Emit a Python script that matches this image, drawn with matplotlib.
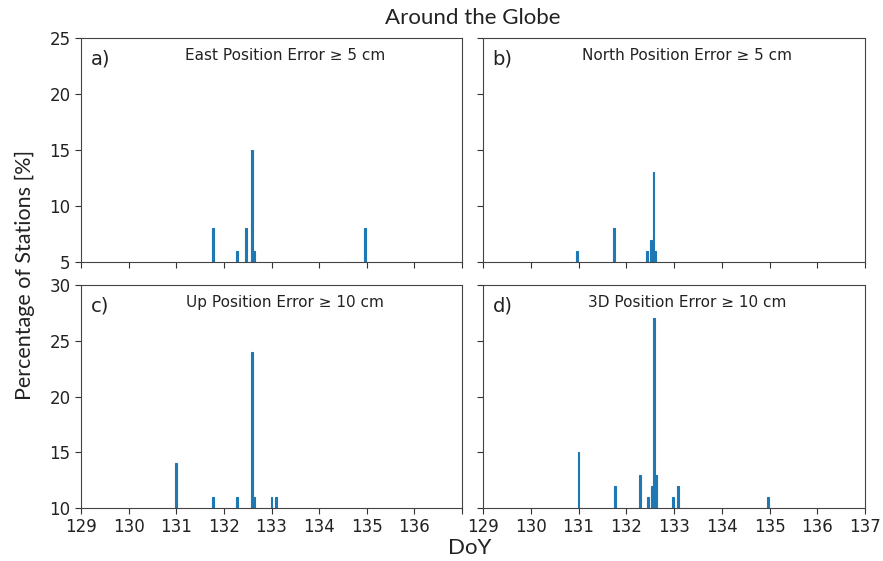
import numpy as np
import matplotlib
matplotlib.use('Agg')
import matplotlib.pyplot as plt

# day-of-year positions and percentage of stations per panel
east_doy = [131.77, 132.28, 132.47, 132.55, 132.60, 132.64, 134.60, 134.96]
east_pct = [8, 6, 8, 5, 15, 6, 5, 8]

north_doy = [130.97, 131.74, 132.25, 132.43, 132.51, 132.57, 132.61, 134.56]
north_pct = [6, 8, 5, 6, 7, 13, 6, 5]

up_doy = [131.00, 131.77, 132.28, 132.55, 132.60, 132.64, 133.00, 133.10, 133.22]
up_pct = [14, 11, 11, 10, 24, 11, 11, 11, 10]

td_doy = [131.00, 131.77, 132.28, 132.45, 132.53, 132.59, 132.63, 132.98, 133.09, 133.21, 134.96]
td_pct = [15, 12, 13, 11, 12, 27, 13, 11, 12, 10, 11]

panels = [
    ('a)', 'East Position Error \u2265 5 cm', east_doy, east_pct),
    ('b)', 'North Position Error \u2265 5 cm', north_doy, north_pct),
    ('c)', 'Up Position Error \u2265 10 cm', up_doy, up_pct),
    ('d)', '3D Position Error \u2265 10 cm', td_doy, td_pct),
]
days = np.arange(129, 138)

fig = plt.figure(figsize=(8.83, 5.61), dpi=100)
W, H = 883.0, 561.0
boxes = [(81, 38, 462, 262), (483, 38, 865, 262),
         (81, 285, 462, 508), (483, 285, 865, 508)]
axes = []
for (x0, y0, x1, y1) in boxes:
    axes.append(fig.add_axes([x0 / W, 1 - y1 / H, (x1 - x0) / W, (y1 - y0) / H]))

for i, (ax, (tag, label, doy, pct)) in enumerate(zip(axes, panels)):
    ax.bar(doy, pct, width=0.04, color='#1f77b4', edgecolor='#1f77b4', linewidth=0.8)
    ax.set_xlim(129, 137)
    ax.set_xticks(days)
    if i == 2:
        # last label would collide with the first one of panel d
        ax.set_xticklabels([str(d) for d in days[:-1]] + [''])
    if i < 2:
        ax.set_ylim(5, 25)
        ax.set_yticks([5, 10, 15, 20, 25])
        ax.tick_params(labelbottom=False)
    else:
        ax.set_ylim(10, 30)
        ax.set_yticks([10, 15, 20, 25, 30])
    if i % 2 == 1:
        ax.tick_params(labelleft=False)
    ax.tick_params(labelsize=12, length=4, color='#333333', labelcolor='#222222')
    for s in ax.spines.values():
        s.set_color('#444444')
    ax.text(0.025, 0.905, tag, transform=ax.transAxes, fontsize=14,
            ha='left', va='center', color='#222222')
    ax.text(0.535, 0.92, label, transform=ax.transAxes, fontsize=11,
            ha='center', va='center', color='#222222')

fig.text(473 / W, 1 - 18 / H, 'Around the Globe', family='Lato', fontsize=16,
         ha='center', va='center', color='#222222')
fig.text(470 / W, 1 - 548 / H, 'DoY', family='Lato', fontsize=16,
         ha='center', va='center', color='#222222')
fig.text(25 / W, 1 - 275 / H, 'Percentage of Stations [%]', family='Lato',
         fontsize=15.5, rotation=90, ha='center', va='center', color='#222222')

plt.savefig('out.png', dpi=100)
